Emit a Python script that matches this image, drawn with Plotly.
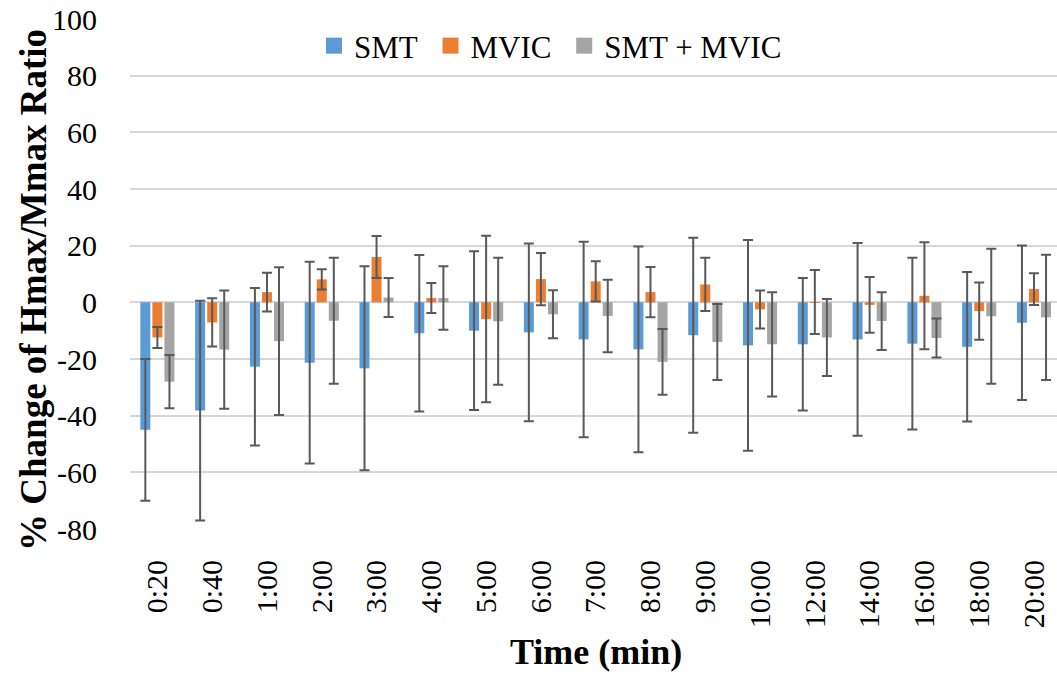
import plotly.graph_objects as go

categories = ["0:20", "0:40", "1:00", "2:00", "3:00", "4:00", "5:00", "6:00", "7:00",
              "8:00", "9:00", "10:00", "12:00", "14:00", "16:00", "18:00", "20:00"]

smt = [-45.0, -38.2, -22.7, -21.3, -23.3, -10.9, -10.0, -10.6, -13.1, -16.6, -11.6,
       -15.2, -14.8, -13.1, -14.6, -15.7, -7.2]
smt_sd = [25.0, 38.8, 27.8, 35.6, 36.0, 27.6, 28.0, 31.4, 34.5, 36.3, 34.4,
          37.2, 23.4, 34.0, 30.3, 26.4, 27.3]

mvic = [-12.4, -7.1, 3.6, 8.1, 16.0, 1.5, -5.9, 8.2, 7.4, 3.6, 6.3,
        -2.5, 0.1, -0.9, 2.3, -3.1, 4.7]
mvic_sd = [3.7, 8.5, 6.8, 3.6, 7.4, 5.3, 29.4, 9.2, 7.1, 8.9, 9.4,
           6.7, 11.3, 9.8, 18.9, 10.1, 5.6]

combo = [-28.0, -16.7, -13.7, -6.5, 1.7, 1.5, -6.7, -4.2, -4.8, -21.0, -14.0,
         -14.8, -12.4, -6.6, -12.6, -4.9, -5.3]
combo_sd = [9.4, 20.9, 26.1, 22.2, 6.9, 11.2, 22.4, 8.5, 12.8, 11.6, 13.4,
            18.4, 13.6, 10.2, 6.9, 23.8, 22.1]

y_ticks = [-80, -60, -40, -20, 0, 20, 40, 60, 80, 100]
y_ticktext = ["-80", "-60", "-40", "-20", "0", "20", "40", "60", "80", "100"]

series_names = ["SMT", "MVIC", "SMT + MVIC"]
series = [
    (series_names[0], smt, smt_sd, "#5B9BD5"),
    (series_names[1], mvic, mvic_sd, "#ED7D31"),
    (series_names[2], combo, combo_sd, "#A5A5A5"),
]

xpos = list(range(len(categories)))
font_family = "Liberation Serif, Times New Roman, serif"

L, T, W, H = 130, 19, 927, 510

fig = go.Figure()
for i, (name, vals, sds, color) in enumerate(series):
    fig.add_trace(go.Bar(
        x=xpos, y=vals, name=name, showlegend=False,
        marker=dict(color=color, line=dict(width=0)),
        error_y=dict(type="data", array=sds, visible=True, color="#595959",
                     thickness=2, width=5),
    ))

# legend entries with larger square swatches
for i, (name, vals, sds, color) in enumerate(series):
    legend_name = name + ("\u00a0" if i < len(series) - 1 else "")
    fig.add_trace(go.Scatter(
        x=[None], y=[None], mode="markers", name=legend_name, showlegend=True,
        marker=dict(symbol="square", size=17, color=color, line=dict(width=0)),
        hoverinfo="skip",
    ))

fig.update_layout(
    width=1057, height=673,
    margin=dict(l=L, r=1057 - L - W, t=T, b=673 - T - H, pad=0),
    paper_bgcolor="white", plot_bgcolor="white",
    barmode="group", bargap=0.34, bargroupgap=0.17,
    font=dict(family=font_family, size=30, color="black"),
    showlegend=True,
    legend=dict(orientation="h", x=(314 - L) / W, xanchor="left",
                y=1.0, yanchor="top", bgcolor="rgba(255,255,255,1)",
                font=dict(size=31, family=font_family), itemwidth=30,
                traceorder="normal"),
    xaxis=dict(
        tickmode="array", tickvals=xpos, ticktext=categories, automargin=False,
        range=[-0.5, 16.42], tickangle=-90, showgrid=False, zeroline=False,
        showline=False, ticks="outside", ticklen=18, tickcolor="rgba(0,0,0,0)",
        tickfont=dict(size=30),
    ),
    yaxis=dict(
        range=[-80, 100], tickmode="array", tickvals=y_ticks, ticktext=y_ticktext,
        automargin=False, showgrid=True, gridcolor="#D6D6D6",
        gridwidth=2, zeroline=True, zerolinecolor="#D6D6D6", zerolinewidth=2,
        showline=False, ticks="outside", ticklen=26, tickcolor="rgba(0,0,0,0)",
        tickfont=dict(size=30),
    ),
    annotations=[
        dict(text="<b>Time (min)</b>", xref="paper", yref="paper",
             x=(596 - L) / W, y=(T + H - 652) / H, xanchor="center", yanchor="middle",
             showarrow=False, font=dict(size=36, family=font_family)),
        dict(text="<b>% Change of Hmax/Mmax Ratio</b>", xref="paper", yref="paper",
             x=(33 - L) / W, y=(T + H - 290) / H, xanchor="center", yanchor="middle",
             textangle=-90, showarrow=False, font=dict(size=37, family=font_family)),
    ],
)

fig.write_html(
    "out.html",
    config={"displayModeBar": False},
    post_script="document.body.style.margin='0';document.body.style.padding='0';"
                "document.body.style.overflow='hidden';",
)
